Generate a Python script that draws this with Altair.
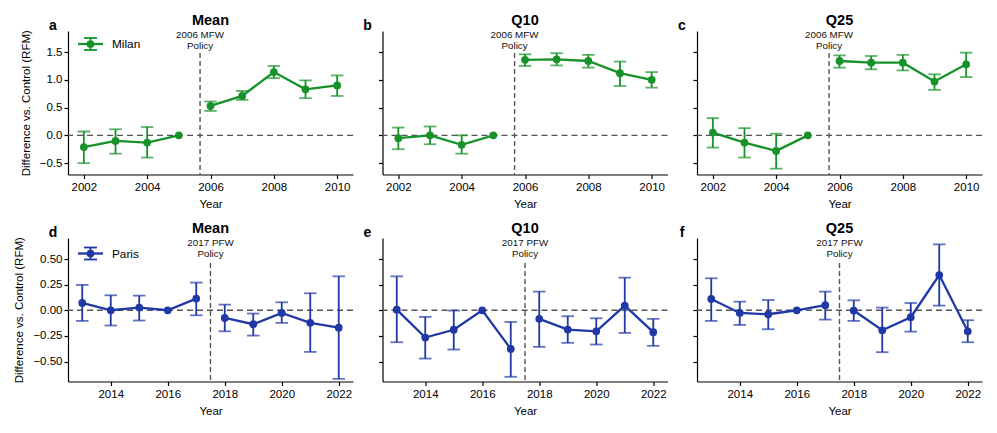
import altair as alt
import pandas as pd

FONT = "Liberation Sans"
GREEN = "#17922a"
BLUE = "#2038a6"
GREY = "#555555"

# ---------------- data ----------------
milan_years = [2002, 2003, 2004, 2005, 2006, 2007, 2008, 2009, 2010]
milan_policy = 2005.67
milan_mean = [-0.21, -0.10, -0.13, 0.0, 0.53, 0.71, 1.14, 0.83, 0.90]
milan_mean_lo = [-0.50, -0.33, -0.40, None, 0.44, 0.64, 1.03, 0.67, 0.71]
milan_mean_hi = [0.07, 0.11, 0.15, None, 0.61, 0.80, 1.25, 0.99, 1.08]
milan_q10 = [-0.05, 0.00, -0.17, 0.0, 1.36, 1.37, 1.34, 1.12, 1.00]
milan_q10_lo = [-0.25, -0.16, -0.33, None, 1.25, 1.26, 1.22, 0.89, 0.86]
milan_q10_hi = [0.14, 0.16, 0.00, None, 1.46, 1.48, 1.45, 1.33, 1.14]
milan_q25 = [0.05, -0.13, -0.28, 0.0, 1.34, 1.31, 1.31, 0.97, 1.28]
milan_q25_lo = [-0.22, -0.40, -0.60, None, 1.22, 1.19, 1.17, 0.82, 1.05]
milan_q25_hi = [0.31, 0.13, 0.03, None, 1.44, 1.43, 1.45, 1.10, 1.49]

paris_years = [2013, 2014, 2015, 2016, 2017, 2018, 2019, 2020, 2021, 2022]
paris_policy = 2017.5
paris_mean = [0.071, 0.0, 0.026, 0.0, 0.114, -0.075, -0.136, -0.026, -0.123, -0.170]
paris_mean_lo = [-0.104, -0.149, -0.100, None, -0.049, -0.205, -0.247, -0.123, -0.406, -0.669]
paris_mean_hi = [0.247, 0.146, 0.143, None, 0.270, 0.055, -0.032, 0.078, 0.166, 0.331]
paris_q10 = [0.006, -0.266, -0.190, 0.0, -0.377, -0.084, -0.188, -0.205, 0.045, -0.214]
paris_q10_lo = [-0.312, -0.471, -0.383, None, -0.649, -0.357, -0.318, -0.334, -0.221, -0.347]
paris_q10_hi = [0.331, -0.065, -0.003, None, -0.114, 0.182, -0.058, -0.078, 0.318, -0.084]
paris_q25 = [0.110, -0.026, -0.039, 0.0, 0.049, -0.003, -0.195, -0.068, 0.344, -0.205]
paris_q25_lo = [-0.104, -0.143, -0.185, None, -0.091, -0.104, -0.409, -0.208, 0.045, -0.312]
paris_q25_hi = [0.312, 0.084, 0.100, None, 0.182, 0.097, 0.026, 0.071, 0.643, -0.097]

milan_xticks = [2002, 2004, 2006, 2008, 2010]
paris_xticks = [2014, 2016, 2018, 2020, 2022]
milan_yticks = [-0.5, 0.0, 0.5, 1.0, 1.5]
paris_yticks = [-0.50, -0.25, 0.00, 0.25, 0.50]

W = 285
H = 143.5


def panel(years, est, lo, hi, policy, policy_text, color, title, letter,
          xdom, xticks, ydom, yticks, yfmt, first, city,
          leg_y, title_y, ann_y, rule_top):
    df = pd.DataFrame({"year": years, "est": est, "lo": lo, "hi": hi})
    df["period"] = ["pre" if yv < policy else "post" for yv in years]
    base = alt.Chart(df)

    xsc = alt.Scale(domain=xdom, nice=False, zero=False)
    ysc = alt.Scale(domain=ydom, nice=False, zero=False)
    xax = alt.Axis(values=xticks, format="d", title="Year", labelOverlap=False)
    if first:
        yax = alt.Axis(values=yticks, format=yfmt, labelOverlap=False,
                       title="Difference vs. Control (RFM)")
    else:
        yax = alt.Axis(values=yticks, format=yfmt, labels=False, title=None)

    X = alt.X("year:Q", scale=xsc, axis=xax)

    zero = alt.Chart(pd.DataFrame({"z": [0.0]})).mark_rule(
        color=GREY, strokeDash=[6, 4], strokeWidth=1.4
    ).encode(y=alt.Y("z:Q", scale=ysc, axis=yax))

    pdf = pd.DataFrame({"policy": [policy]})
    vline = alt.Chart(pdf).mark_rule(
        color=GREY, strokeDash=[5, 3], strokeWidth=1.4
    ).encode(x=alt.X("policy:Q", scale=xsc, axis=xax),
             y=alt.value(rule_top), y2=alt.value(H))
    ann = alt.Chart(pdf).mark_text(
        text=policy_text, lineBreak="\n", baseline="top", align="center",
        fontSize=9.8, lineHeight=10.5, color="#111"
    ).encode(x=alt.X("policy:Q", scale=xsc, axis=xax), y=alt.value(ann_y))

    eb = base.transform_filter("isValid(datum.lo)")
    bars = eb.mark_rule(color=color, strokeWidth=1.8).encode(
        x=X, y=alt.Y("lo:Q", scale=ysc, axis=yax), y2="hi:Q")
    cap_lo = eb.mark_tick(color=color, orient="horizontal", size=12.5, thickness=1.8).encode(
        x=X, y=alt.Y("lo:Q", scale=ysc, axis=yax))
    cap_hi = eb.mark_tick(color=color, orient="horizontal", size=12.5, thickness=1.8).encode(
        x=X, y=alt.Y("hi:Q", scale=ysc, axis=yax))
    line = base.mark_line(color=color, strokeWidth=2.3).encode(
        x=X, y=alt.Y("est:Q", scale=ysc, axis=yax), detail="period:N")
    pts = base.mark_circle(color=color, size=60, opacity=1).encode(
        x=X, y=alt.Y("est:Q", scale=ysc, axis=yax))

    one = alt.Chart(pd.DataFrame({"k": [0]}))
    ttl = one.mark_text(text=title, fontSize=14.5, fontWeight="bold",
                        baseline="alphabetic", align="center", color="#000").encode(
        x=alt.value(W / 2), y=alt.value(title_y))
    let = one.mark_text(text=letter, fontSize=14, fontWeight="bold",
                        baseline="alphabetic", align="center", color="#000").encode(
        x=alt.value(-15), y=alt.value(-1))

    layers = [zero, vline, ann, bars, cap_lo, cap_hi, line, pts, ttl, let]

    if first:
        lrule = one.mark_rule(color=color, strokeWidth=2.3).encode(
            x=alt.value(10), x2=alt.value(35), y=alt.value(leg_y))
        lbar = one.mark_rule(color=color, strokeWidth=1.8).encode(
            x=alt.value(22.5), y=alt.value(leg_y - 6), y2=alt.value(leg_y + 6))
        lcap1 = one.mark_rule(color=color, strokeWidth=1.8).encode(
            x=alt.value(16), x2=alt.value(29), y=alt.value(leg_y - 6))
        lcap2 = one.mark_rule(color=color, strokeWidth=1.8).encode(
            x=alt.value(16), x2=alt.value(29), y=alt.value(leg_y + 6))
        lpt = one.mark_circle(color=color, size=60, opacity=1).encode(
            x=alt.value(22.5), y=alt.value(leg_y))
        ltxt = one.mark_text(text=city, fontSize=11.8, align="left",
                             baseline="middle", color="#000").encode(
            x=alt.value(44), y=alt.value(leg_y))
        layers += [lrule, lbar, lcap1, lcap2, lpt, ltxt]

    return alt.layer(*layers).properties(width=W, height=H)


top_specs = [("Mean", "a", milan_mean, milan_mean_lo, milan_mean_hi),
             ("Q10", "b", milan_q10, milan_q10_lo, milan_q10_hi),
             ("Q25", "c", milan_q25, milan_q25_lo, milan_q25_hi)]
bot_specs = [("Mean", "d", paris_mean, paris_mean_lo, paris_mean_hi),
             ("Q10", "e", paris_q10, paris_q10_lo, paris_q10_hi),
             ("Q25", "f", paris_q25, paris_q25_lo, paris_q25_hi)]

panels = [
    panel(milan_years, e, l, h, milan_policy, "2006 MFW\nPolicy", GREEN, t, L,
          [2001.5, 2010.5], milan_xticks, [-0.705, 1.88], milan_yticks, ".1f",
          i == 0, "Milan", 13, -6, -1, 22)
    for i, (t, L, e, l, h) in enumerate(top_specs)
] + [
    panel(paris_years, e, l, h, paris_policy, "2017 PFW\nPolicy", BLUE, t, L,
          [2012.5, 2022.5], paris_xticks, [-0.695, 0.705], paris_yticks, ".2f",
          i == 0, "Paris", 15.5, -5, 0, 25)
    for i, (t, L, e, l, h) in enumerate(bot_specs)
]

chart = alt.concat(
    *panels, columns=3, spacing={"row": 63, "column": 29.5}, bounds="flush"
).configure_view(
    stroke=None
).configure_axis(
    grid=False, domainColor="#000", domainWidth=1.2, tickColor="#000",
    tickWidth=1.2, tickSize=4, labelFont=FONT, labelFontSize=11.5,
    labelColor="#000", titleFont=FONT, titleFontSize=11.5,
    titleFontWeight="normal", titleColor="#000"
).configure_axisX(labelPadding=3, titlePadding=5).configure_axisY(
    labelPadding=2, titlePadding=8
).configure_text(font=FONT)

chart.save("out.html", embed_options={"renderer": "svg", "actions": False})
